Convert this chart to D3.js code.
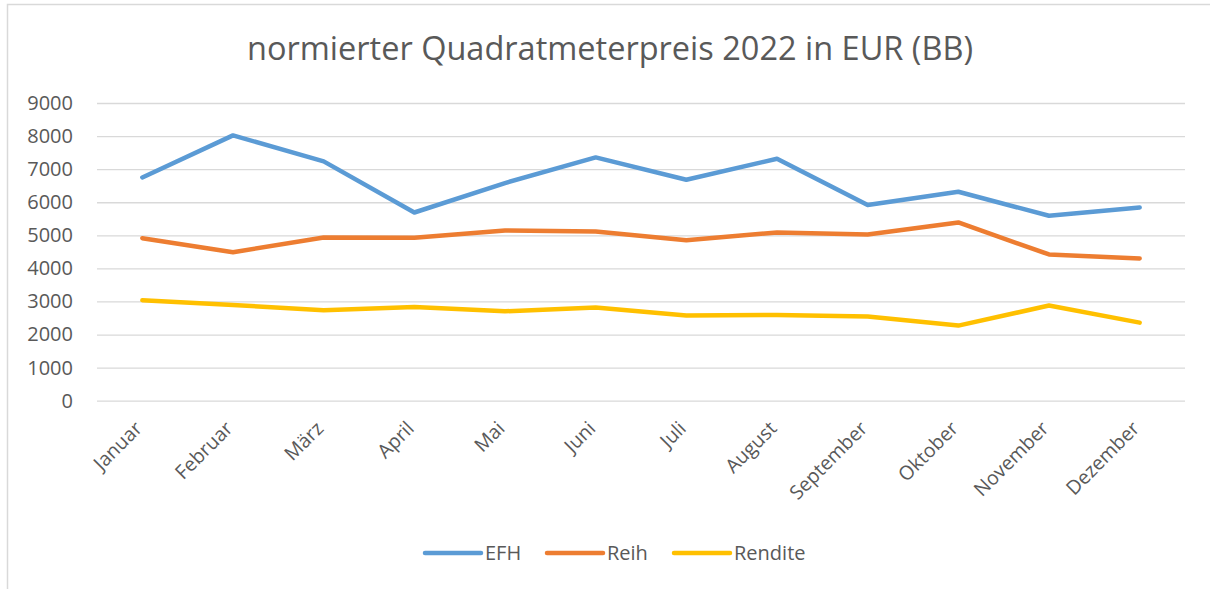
<!DOCTYPE html>
<html>
<head>
<meta charset="utf-8">
<script src="https://cdn.jsdelivr.net/npm/d3@7"></script>
<style>
  body { margin: 0; background: #fff; }
  svg { display: block; font-family: "Open Sans", sans-serif; }
</style>
</head>
<body>
<svg width="1210" height="589"></svg>
<script>
// data
var months = ["Januar", "Februar", "März", "April", "Mai", "Juni", "Juli", "August", "September", "Oktober", "November", "Dezember"];
var efh     = [6750, 8020, 7235, 5690, 6580, 7355, 6680, 7315, 5915, 6317, 5590, 5843];
var reih    = [4914, 4490, 4934, 4924, 5146, 5116, 4854, 5086, 5025, 5388, 4420, 4299];
var rendite = [3037, 2896, 2735, 2836, 2704, 2815, 2573, 2593, 2543, 2270, 2876, 2361];
var yTicks  = [0, 1000, 2000, 3000, 4000, 5000, 6000, 7000, 8000, 9000];

var series = [
  { name: "EFH", values: efh, color: "#5b9bd5" },
  { name: "Reih", values: reih, color: "#ed7d31" },
  { name: "Rendite", values: rendite, color: "#ffc000" }
];

function main() {
  var svg = d3.select("svg");
  var textColor = "#595959";

  // chart frame (runs off right and bottom edges like the screenshot)
  svg.append("rect")
    .attr("x", 7.5).attr("y", 4.5)
    .attr("width", 1220).attr("height", 600)
    .attr("fill", "#fff")
    .attr("stroke", "#d9d9d9")
    .attr("stroke-width", 1.5);

  svg.append("text")
    .attr("x", 610)
    .attr("y", 60)
    .attr("text-anchor", "middle")
    .style("font-size", "32.5px")
    .attr("fill", textColor)
    .text("normierter Quadratmeterpreis 2022 in EUR (BB)");

  var left = 97, right = 1185, top = 103, bottom = 400.7;

  var xScale = d3.scaleBand().domain(months).range([left, right]);
  var yScale = d3.scaleLinear().domain([0, 9000]).range([bottom, top]);

  // gridlines
  svg.append("g")
    .attr("transform", "translate(" + left + ",0)")
    .call(d3.axisLeft(yScale).tickValues(yTicks).tickSize(-(right - left)).tickFormat(""))
    .call(function(g) { g.select(".domain").remove(); })
    .selectAll("line")
    .attr("stroke", "#d9d9d9")
    .attr("stroke-width", 1.3);

  // y labels
  svg.append("g")
    .attr("transform", "translate(73,0)")
    .call(d3.axisLeft(yScale).tickValues(yTicks).tickSize(0).tickPadding(0).tickFormat(d3.format("d")))
    .call(function(g) { g.select(".domain").remove(); })
    .selectAll("text")
    .attr("fill", textColor)
    .style("font-family", "Open Sans")
    .style("font-size", "20px");

  // x labels
  svg.append("g")
    .attr("transform", "translate(0," + bottom + ")")
    .call(d3.axisBottom(xScale).tickSize(0).tickFormat(function(d) { return d; }))
    .call(function(g) { g.select(".domain").remove(); })
    .selectAll("text")
    .attr("fill", textColor)
    .style("font-family", "Open Sans")
    .style("font-size", "19.5px")
    .style("text-anchor", "end")
    .attr("dy", 0)
    .attr("y", 0)
    .attr("transform", "translate(1,29) rotate(-45)");

  var line = d3.line()
    .x(function(d, i) { return xScale(months[i]) + xScale.bandwidth() / 2; })
    .y(function(d) { return yScale(d); });

  svg.selectAll(".series")
    .data(series)
    .enter().append("path")
    .attr("class", "series")
    .attr("d", function(d) { return line(d.values); })
    .attr("fill", "none")
    .attr("stroke", function(d) { return d.color; })
    .attr("stroke-width", 4.5)
    .attr("stroke-linecap", "round")
    .attr("stroke-linejoin", "round");

  // legend
  var legendX = [425, 547, 674];
  var lg = svg.selectAll(".legend")
    .data(series)
    .enter().append("g")
    .attr("class", "legend")
    .attr("transform", function(d, i) { return "translate(" + legendX[i] + ",553)"; });

  lg.append("line")
    .attr("x1", 0).attr("x2", 56)
    .attr("stroke", function(d) { return d.color; })
    .attr("stroke-width", 4.5)
    .attr("stroke-linecap", "round");

  lg.append("text")
    .attr("x", 60)
    .attr("dy", "0.35em")
    .attr("fill", textColor)
    .style("font-size", "20px")
    .text(function(d) { return d.name; });
}
main();
</script>
</body>
</html>
